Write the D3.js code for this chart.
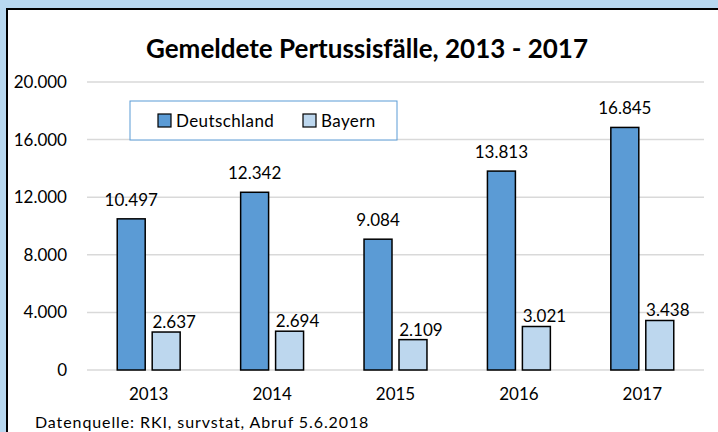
<!doctype html>
<html>
<head>
<meta charset="utf-8">
<title>Gemeldete Pertussisfälle</title>
<script src="https://cdnjs.cloudflare.com/ajax/libs/d3/7.8.5/d3.min.js"></script>
<style>
  body { margin: 0; background: #b8d8f0; }
  svg { display: block; font-family: Lato, "Open Sans", sans-serif; }
</style>
</head>
<body>
<div id="chart"></div>
<script>
  // data
  const years = ['2013', '2014', '2015', '2016', '2017'];
  const series = ['Deutschland', 'Bayern'];
  const deutschland = [10497, 12342, 9084, 13813, 16845];
  const bayern = [2637, 2694, 2109, 3021, 3438];
  const yTicks = [0, 4000, 8000, 12000, 16000, 20000];
  const colors = ['#5b9bd5', '#bdd7ee'];

  const W = 718, H = 432;
  const fmt = d3.formatLocale({ decimal: ',', thousands: '.', grouping: [3], currency: ['', '€'] }).format(',');

  const svg = d3.select('#chart').append('svg')
    .attr('width', W).attr('height', H);

  // white panel with black frame
  svg.append('rect')
    .attr('x', 7).attr('y', 9).attr('width', W).attr('height', H)
    .attr('fill', '#fff').attr('stroke', '#000').attr('stroke-width', 2);

  const x0 = d3.scaleBand().domain(years).range([87, 704])
    .paddingInner(0.49).paddingOuter(0.245);
  const x1 = d3.scaleBand().domain(series).range([0, x0.bandwidth()])
    .paddingInner(0.2);
  const y = d3.scaleLinear().domain([0, 20000]).range([370, 82]);

  // gridlines
  svg.append('g').selectAll('line').data(yTicks).join('line')
    .attr('x1', 87).attr('x2', 704)
    .attr('y1', d => y(d)).attr('y2', d => y(d))
    .attr('stroke', '#d9d9d9').attr('stroke-width', 1.5);

  // y axis labels
  const yAxis = svg.append('g').attr('transform', 'translate(67,0)')
    .call(d3.axisLeft(y).tickValues(yTicks).tickSize(0).tickPadding(0).tickFormat(fmt));
  yAxis.select('.domain').remove();
  yAxis.selectAll('text').attr('font-size', 17).attr('fill', '#000')
    .attr('font-family', 'Lato, sans-serif');

  // x axis labels
  const xAxis = svg.append('g').attr('transform', 'translate(0,388)')
    .call(d3.axisBottom(x0).tickSize(0).tickPadding(0));
  xAxis.select('.domain').remove();
  xAxis.selectAll('text').attr('font-size', 17).attr('fill', '#000')
    .attr('font-family', 'Lato, sans-serif');

  const rows = years.map((yr, i) => ({ year: yr, values: [deutschland[i], bayern[i]] }));

  const groups = svg.append('g').selectAll('g').data(rows).join('g')
    .attr('transform', d => `translate(${x0(d.year)},0)`);

  groups.selectAll('rect').data(d => d.values.map((v, k) => ({ key: series[k], k, v })))
    .join('rect')
    .attr('x', d => x1(d.key))
    .attr('y', d => y(d.v))
    .attr('width', x1.bandwidth())
    .attr('height', d => y(0) - y(d.v))
    .attr('fill', d => colors[d.k])
    .attr('stroke', '#000').attr('stroke-width', 1.5);

  // value labels (Bayern labels sit a bit to the right in the original)
  groups.selectAll('text.val').data(d => d.values.map((v, k) => ({ key: series[k], k, v })))
    .join('text')
    .attr('class', 'val')
    .attr('x', d => x1(d.key) + x1.bandwidth() / 2 + (d.k === 1 ? 8 : 0))
    .attr('y', d => y(d.v) - (d.k === 1 ? 4 : 13))
    .attr('text-anchor', 'middle')
    .attr('font-size', 17)
    .text(d => fmt(d.v));

  // title
  svg.append('text')
    .attr('x', 367).attr('y', 58)
    .attr('text-anchor', 'middle')
    .attr('font-size', 26).attr('font-weight', 'bold')
    .text('Gemeldete Pertussisfälle, 2013 - 2017');

  // legend
  const legend = svg.append('g');
  legend.append('rect')
    .attr('x', 130).attr('y', 101).attr('width', 267).attr('height', 39)
    .attr('fill', '#fff').attr('stroke', '#5b9bd5').attr('stroke-width', 1);
  const legendX = [158, 303];
  series.forEach((s, k) => {
    legend.append('rect')
      .attr('x', legendX[k]).attr('y', 114).attr('width', 13).attr('height', 13)
      .attr('fill', colors[k]).attr('stroke', '#000').attr('stroke-width', 1.2);
    legend.append('text')
      .attr('x', legendX[k] + 18).attr('y', 127)
      .attr('font-size', 17)
      .attr('letter-spacing', 0.4)
      .text(s);
  });

  // source note
  svg.append('text')
    .attr('x', 35).attr('y', 428)
    .attr('font-size', 16)
    .attr('letter-spacing', 0.9)
    .text('Datenquelle: RKI, survstat, Abruf 5.6.2018');
</script>
</body>
</html>
